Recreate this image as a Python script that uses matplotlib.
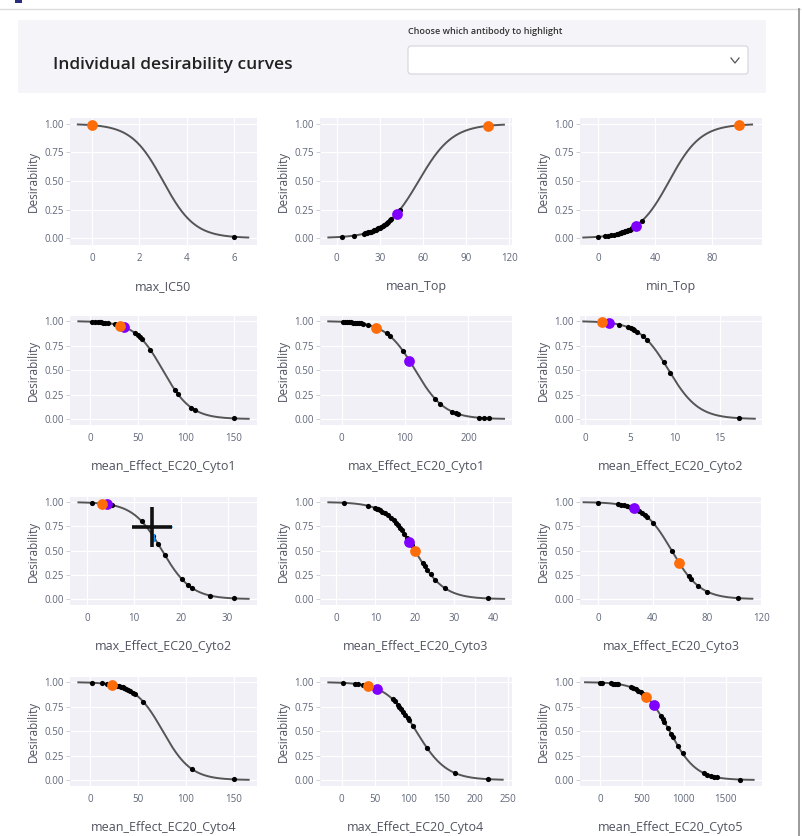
import numpy as np
import matplotlib
matplotlib.use('Agg')
import matplotlib.pyplot as plt
from matplotlib.patches import Rectangle, FancyBboxPatch
from matplotlib.lines import Line2D

plt.rcParams['font.family'] = ['Open Sans', 'DejaVu Sans']

W, H = 802, 836

# one entry per panel, row by row
names = ['max_IC50', 'mean_Top', 'min_Top',
         'mean_Effect_EC20_Cyto1', 'max_Effect_EC20_Cyto1', 'mean_Effect_EC20_Cyto2',
         'max_Effect_EC20_Cyto2', 'mean_Effect_EC20_Cyto3', 'max_Effect_EC20_Cyto3',
         'mean_Effect_EC20_Cyto4', 'max_Effect_EC20_Cyto4', 'mean_Effect_EC20_Cyto5']

# logistic desirability: midpoint and slope (positive = decreasing)
mids = [3, 57, 50, 76, 116, 9.3, 16, 20, 54, 76, 112, 830]
slopes = [1.5, -0.085, -0.09, 0.068, 0.043, 0.6, 0.32, 0.27, 0.095, 0.068, 0.044, 0.0063]

# where the curve is drawn
curve_lo = [-0.6, -5.8, -10.6, -12.2, -21, -0.2, -1.9, -1.95, -10.9, -12.2, -19.9, -177]
curve_hi = [6.6, 116.3, 108.4, 165.8, 256, 18.9, 34.5, 42.7, 113.4, 165.8, 242, 1834]

x_ranges = [(-0.93, 6.97), (-11.6, 121.9), (-12.9, 115.4), (-20.9, 174.5),
            (-34, 268.6), (-0.56, 19.7), (-3.7, 36.3), (-4.07, 44.7),
            (-13.5, 120.5), (-20.9, 174.5), (-32.4, 256), (-237, 1934)]

x_ticks = [[0, 2, 4, 6], [0, 30, 60, 90, 120], [0, 40, 80], [0, 50, 100, 150],
           [0, 100, 200], [0, 5, 10, 15], [0, 10, 20, 30], [0, 10, 20, 30, 40],
           [0, 40, 80, 120], [0, 50, 100, 150], [0, 50, 100, 150, 200, 250],
           [0, 500, 1000, 1500]]

# antibodies (x values)
black_pts = [
    [0, 6.0],
    [4, 12, 19, 20, 21, 22, 23, 24, 25, 26, 27, 28, 29, 30, 31, 32, 33, 34, 35, 36, 37, 38, 44],
    [0, 5, 7, 9, 11, 13, 14, 15, 16, 17, 18, 19, 20, 21, 22, 23, 24, 25, 31],
    [1.7, 5, 8, 10, 12, 14, 16, 19, 26, 47, 50, 52, 54, 63, 89, 92, 106, 110, 150],
    [3, 6, 9, 12, 15, 18, 21, 24, 27, 30, 34, 42, 71, 76, 97, 147, 155, 174, 180, 184, 216, 224, 232],
    [3.8, 4.8, 5.1, 5.3, 5.5, 5.8, 6.5, 6.9, 8.75, 9.5, 17.1],
    [0.9, 5.2, 11.6, 14.1, 15.2, 16.6, 20.2, 21.6, 22.4, 26.3, 31.3],
    [1.9, 8.2, 9.9, 10.3, 10.7, 11.2, 11.8, 12.5, 13.2, 14, 14.6, 15.2, 15.7, 16.2, 16.7,
     17.3, 18, 19.2, 22, 22.5, 23.1, 24, 25.2, 27.7, 38.7],
    [0, 14.6, 17, 19, 21, 23, 28, 30, 32, 34, 36, 40.2, 54.3, 66.4, 68, 73.7, 80.3, 103],
    [1.7, 12.2, 17.4, 28, 30, 32, 34, 36, 38, 40, 42, 45.4, 47.1, 55.8, 106.5, 150],
    [1.4, 19.9, 24.9, 32.3, 77, 80, 84.5, 87, 90, 93, 96, 99.4, 101.9, 106.9, 128.3, 170.6, 220],
    [0, 20, 138, 160, 180, 200, 217, 375, 400, 430, 460, 490, 513, 730, 750, 770, 809, 848,
     868, 927, 986, 1243, 1280, 1322, 1360, 1400, 1676],
]
orange_pts = [0.0, 105, 99.5, 31.4, 55, 1.86, 3.1, 20.1, 59.6, 22.7, 39.7, 553]
purple_pts = [None, 41.6, 26.6, 36, 107, 2.7, 4.3, 18.6, 26, None, 53.7, 643]

y_ticks = [0, 0.25, 0.5, 0.75, 1.0]

BG = '#f1f0f7'
TICK_COL = '#5f6679'
LAB_COL = '#50535f'
ORANGE = '#ff6d0a'
PURPLE = '#8000ff'


def desir(x, m, s):
    x = np.asarray(x, dtype=float)
    return 1.0 / (1.0 + np.exp(s * (x - m)))


fig = plt.figure(figsize=(W / 100, H / 100), dpi=100)
fig.patch.set_facecolor('white')

# page chrome: frame, header band, dropdown
fig.add_artist(Line2D([0, 800 / W], [1 - 9 / H, 1 - 9 / H], color='#dcdcdc', lw=1))
fig.add_artist(Line2D([799 / W, 799 / W], [0, 1 - 9 / H], color='#8a8a8a', lw=1.2))
fig.add_artist(Rectangle((15 / W, 1 - 3 / H), 7 / W, 3 / H, color='#2b2d7a', lw=0))
fig.add_artist(Rectangle((18 / W, 1 - 93 / H), 748 / W, 73 / H,
                         facecolor='#f5f4f9', edgecolor='none'))
fig.text(53 / W, 1 - 65 / H, 'Individual desirability curves', fontsize=12.5,
         fontweight='semibold', color='#222222', va='center', ha='left')
fig.text(408 / W, 1 - 31 / H, 'Choose which antibody to highlight', fontsize=6.5,
         fontweight='semibold', color='#333333', va='center', ha='left')
fig.add_artist(FancyBboxPatch((408 / W, 1 - 74 / H), 340 / W, 28 / H,
                              boxstyle='round,pad=0,rounding_size=0.004',
                              facecolor='white', edgecolor='#d4d4dc', lw=0.8))
fig.add_artist(Line2D([731 / W, 735 / W, 739 / W], [1 - 58 / H, 1 - 63 / H, 1 - 58 / H],
                      color='#555555', lw=0.9))

col_left = [70, 320, 580]
col_w = [187, 192, 182]
row_top = [118, 316, 497, 677]
row_h = [127, 109, 108, 109]

for i in range(12):
    r, c = divmod(i, 3)
    ax = fig.add_axes([col_left[c] / W, 1 - (row_top[r] + row_h[r]) / H,
                       col_w[c] / W, row_h[r] / H])
    ax.set_facecolor(BG)
    for sp in ax.spines.values():
        sp.set_visible(False)

    xs = np.linspace(curve_lo[i], curve_hi[i], 400)
    ax.plot(xs, desir(xs, mids[i], slopes[i]), color='#555555', lw=1.4, zorder=2)

    bx = np.array(black_pts[i])
    ax.scatter(bx, desir(bx, mids[i], slopes[i]), s=14, color='black', lw=0, zorder=3)
    if purple_pts[i] is not None:
        ax.scatter([purple_pts[i]], desir([purple_pts[i]], mids[i], slopes[i]), s=60,
                   color=PURPLE, lw=0, zorder=4)
    ax.scatter([orange_pts[i]], desir([orange_pts[i]], mids[i], slopes[i]), s=60,
               color=ORANGE, lw=0, zorder=5)

    ax.set_xlim(*x_ranges[i])
    ax.set_ylim(-0.061, 1.052)
    ax.set_xticks(x_ticks[i])
    ax.set_yticks(y_ticks)
    ax.set_yticklabels(['%.2f' % v for v in y_ticks])
    ax.grid(True, color='white', lw=0.9, zorder=0)
    ax.set_axisbelow(True)
    ax.tick_params(axis='x', length=0, pad=6, labelsize=7, labelcolor=TICK_COL)
    ax.tick_params(axis='y', length=3, width=0.6, color='#c8c8d0', pad=1.5,
                   labelsize=7, labelcolor=TICK_COL)
    ax.set_xlabel(names[i], fontsize=9, color=LAB_COL, labelpad=11)
    ax.set_ylabel('Desirability', fontsize=8.5, color=LAB_COL, labelpad=3)

    # mouse cursor + spike lines left over from the screenshot
    if i == 6:
        ax.plot([13.8], [0.743], marker='+', markersize=29, mew=2.6, color='#111111', zorder=6)
        ax.plot([15.2, 18.3], [0.743, 0.743], color='#1f9bff', lw=1.4, ls=(0, (3, 1.5)), zorder=5)
        ax.plot([14.3, 14.3], [0.66, 0.6], color='#1f9bff', lw=1.4, zorder=5)

fig.savefig('out.png', dpi=100, facecolor='white')
